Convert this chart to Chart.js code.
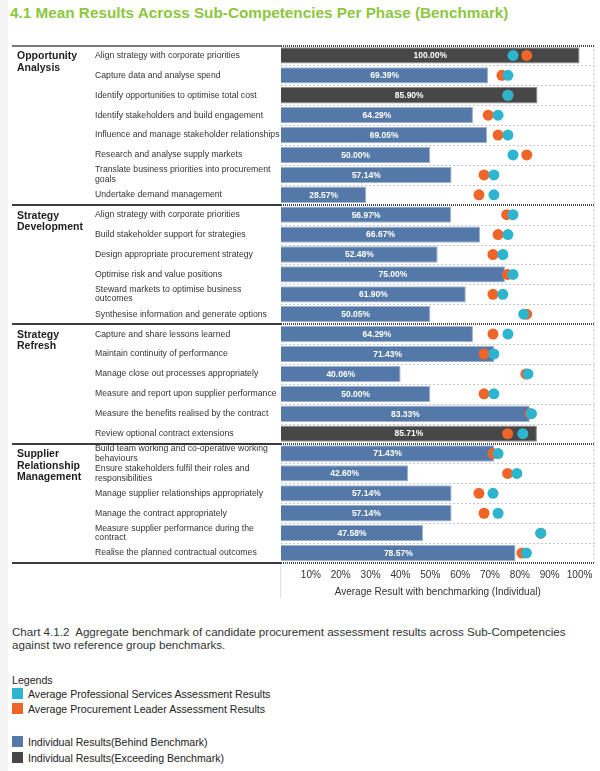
<!DOCTYPE html>
<html>
<head>
<meta charset="utf-8">
<script src="https://cdn.jsdelivr.net/npm/chart.js@4.4.1/dist/chart.umd.min.js"></script>
<style>
  body { margin: 0; background: #fff; font-family: "Liberation Sans", Arial, sans-serif; }
  #page { position: relative; width: 600px; height: 771px; overflow: hidden; background: #fff; }
  .strip { position: absolute; left: 0; top: 0; width: 8px; height: 771px; background: #f3f3f3; }
  h1 { position: absolute; left: 10px; top: 4px; margin: 0; font-size: 15.3px; font-weight: bold; color: #8dc63f; white-space: nowrap; }
  #wrap { position: absolute; left: 0; top: 40px; width: 600px; height: 558px; }
  .caption { position: absolute; left: 12px; top: 625px; width: 585px; font-size: 11.6px; line-height: 13px; color: #333; }
  .lg { position: absolute; left: 12px; font-size: 10.6px; color: #222; white-space: nowrap; }
  .sw { display: inline-block; width: 11px; height: 11px; margin-right: 5px; vertical-align: -1px; }
</style>
</head>
<body>
<div id="page">
  <div class="strip"></div>
  <h1>4.1 Mean Results Across Sub-Competencies Per Phase (Benchmark)</h1>
  <div id="wrap"><canvas id="chart"></canvas></div>
  <div class="caption">Chart 4.1.2&nbsp; Aggregate benchmark of candidate procurement assessment results across Sub-Competencies against two reference group benchmarks.</div>
  <div class="lg" style="top:674px">Legends</div>
  <div class="lg" style="top:688px"><span class="sw" style="background:#2db5cf"></span>Average Professional Services Assessment Results</div>
  <div class="lg" style="top:703px"><span class="sw" style="background:#ef6527"></span>Average Procurement Leader Assessment Results</div>
  <div class="lg" style="top:736px"><span class="sw" style="background:#5479a8"></span>Individual Results(Behind Benchmark)</div>
  <div class="lg" style="top:752px"><span class="sw" style="background:#474747"></span>Individual Results(Exceeding Benchmark)</div>
</div>
<script>
const phases = [['Opportunity', 'Analysis'], ['Strategy', 'Development'], ['Strategy', 'Refresh'], ['Supplier', 'Relationship', 'Management']];
const phaseCounts = [8, 6, 6, 6];

const subCompetencies = [
  'Align strategy with corporate priorities',
  'Capture data and analyse spend',
  'Identify opportunities to optimise total cost',
  'Identify stakeholders and build engagement',
  'Influence and manage stakeholder relationships',
  'Research and analyse supply markets',
  ['Translate business priorities into procurement', 'goals'],
  'Undertake demand management',
  'Align strategy with corporate priorities',
  'Build stakeholder support for strategies',
  'Design appropriate procurement strategy',
  'Optimise risk and value positions',
  ['Steward markets to optimise business', 'outcomes'],
  'Synthesise information and generate options',
  'Capture and share lessons learned',
  'Maintain continuity of performance',
  'Manage close out processes appropriately',
  'Measure and report upon supplier performance',
  'Measure the benefits realised by the contract',
  'Review optional contract extensions',
  ['Build team working and co-operative working', 'behaviours'],
  ['Ensure stakeholders fulfil their roles and', 'responsibilities'],
  'Manage supplier relationships appropriately',
  'Manage the contract appropriately',
  ['Measure supplier performance during the', 'contract'],
  'Realise the planned contractual outcomes'
];

const individual = [100.00, 69.39, 85.90, 64.29, 69.05, 50.00, 57.14, 28.57,
  56.97, 66.67, 52.48, 75.00, 61.90, 50.05,
  64.29, 71.43, 40.06, 50.00, 83.33, 85.71,
  71.43, 42.60, 57.14, 57.14, 47.58, 78.57];
const exceeding = [1, 0, 1, 0, 0, 0, 0, 0,
  0, 0, 0, 0, 0, 0,
  0, 0, 0, 0, 0, 1,
  0, 0, 0, 0, 0, 0];
const professionalServices = [77.7, 76.0, 76.0, 72.7, 76.0, 77.7, 71.3, 71.3,
  77.7, 76.0, 74.3, 77.7, 74.3, 81.3,
  76.0, 71.3, 82.7, 71.3, 83.9, 81.0,
  72.7, 79.0, 71.0, 72.7, 87.0, 82.2];
const procurementLeader = [82.3, 74.0, 76.0, 69.4, 72.7, 82.3, 68.0, 66.3,
  75.6, 72.7, 71.0, 75.9, 71.0, 82.3,
  71.0, 68.0, 82.0, 68.0, 83.5, 75.9,
  71.0, 75.9, 66.3, 68.0, 87.0, 80.7];
const xTicks = [10, 20, 30, 40, 50, 60, 70, 80, 90, 100];

const BLUE = '#5479a8', DARK = '#474747', CYAN = '#2db5cf', ORANGE = '#ef6527';

// separators, phase names and bar labels
const decor = {
  id: 'decor',
  beforeDatasetsDraw(chart) {
    const { ctx, chartArea: a, scales: { y } } = chart;
    const ends = [];
    let acc = 0;
    phaseCounts.forEach(c => { acc += c; ends.push(acc); });
    ctx.save();
    for (let i = 1; i < subCompetencies.length; i++) {
      const yy = Math.round((y.getPixelForValue(i - 1) + y.getPixelForValue(i)) / 2) + 0.5;
      if (ends.includes(i)) continue;
      ctx.strokeStyle = '#c8c8c8';
      ctx.lineWidth = 1;
      ctx.setLineDash([2, 2]);
      ctx.beginPath(); ctx.moveTo(a.left, yy); ctx.lineTo(a.right, yy); ctx.stroke();
    }
    // right border
    ctx.strokeStyle = '#bdbdbd';
    ctx.setLineDash([2, 2]);
    ctx.beginPath(); ctx.moveTo(a.right - 0.5, a.top); ctx.lineTo(a.right - 0.5, a.bottom); ctx.stroke();
    // light vertical under plot
    ctx.setLineDash([]);
    ctx.strokeStyle = '#e2e2e2';
    ctx.beginPath(); ctx.moveTo(a.left - 0.5, a.bottom); ctx.lineTo(a.left - 0.5, chart.height); ctx.stroke();
    ctx.restore();
  },
  afterDatasetsDraw(chart) {
    const { ctx, chartArea: a, scales: { y } } = chart;
    ctx.save();
    // section lines
    const bounds = [0];
    let acc = 0;
    phaseCounts.forEach(c => { acc += c; bounds.push(acc); });
    bounds.forEach((b, k) => {
      let yy;
      if (b === 0) yy = a.top;
      else if (b === subCompetencies.length) yy = a.bottom;
      else yy = (y.getPixelForValue(b - 1) + y.getPixelForValue(b)) / 2;
      yy = Math.round(yy);
      ctx.setLineDash([]);
      ctx.fillStyle = k === 0 ? '#7a7a7a' : '#3c3c3c';
      ctx.fillRect(12, yy - 1, a.left - 12, 2);
      ctx.strokeStyle = '#4a4a4a';
      ctx.lineWidth = 2;
      ctx.setLineDash([1, 1]);
      ctx.beginPath(); ctx.moveTo(a.left, yy); ctx.lineTo(a.right, yy); ctx.stroke();
    });
    // phase names
    ctx.setLineDash([]);
    ctx.fillStyle = '#1e1e1e';
    ctx.font = 'bold 10.5px "Liberation Sans", Arial, sans-serif';
    ctx.textAlign = 'left';
    ctx.textBaseline = 'middle';
    phases.forEach((lines, k) => {
      const top = y.getPixelForValue(bounds[k]);
      lines.forEach((t, j) => ctx.fillText(t, 17, top + 1 + j * 11.5));
    });
    // value labels in bars
    const meta = chart.getDatasetMeta(2);
    ctx.fillStyle = '#fff';
    ctx.font = 'bold 8.5px "Liberation Sans", Arial, sans-serif';
    ctx.textAlign = 'center';
    meta.data.forEach((bar, i) => {
      const cx = (bar.base + bar.x) / 2;
      ctx.fillText(individual[i].toFixed(2) + '%', cx, bar.y + 0.5);
    });
    ctx.restore();
  }
};

new Chart(document.getElementById('chart'), {
  type: 'bar',
  data: {
    labels: subCompetencies,
    datasets: [
      {
        type: 'line', label: 'Average Professional Services Assessment Results',
        data: professionalServices, indexAxis: 'y', showLine: false, order: 0,
        pointRadius: 5.5, pointBackgroundColor: CYAN, pointBorderWidth: 0, borderColor: CYAN
      },
      {
        type: 'line', label: 'Average Procurement Leader Assessment Results',
        data: procurementLeader, indexAxis: 'y', showLine: false, order: 1,
        pointRadius: 5.5, pointBackgroundColor: ORANGE, pointBorderWidth: 0, borderColor: ORANGE
      },
      {
        label: 'Individual Results', data: individual, order: 2,
        backgroundColor: exceeding.map(e => e ? DARK : BLUE),
        borderColor: exceeding.map(e => e ? '#8c8c8c' : '#9db2cd'),
        borderWidth: 1,
        categoryPercentage: 1, barPercentage: 0.82
      }
    ]
  },
  options: {
    indexAxis: 'y',
    responsive: true,
    maintainAspectRatio: false,
    animation: false,
    layout: { padding: { left: 95, top: 5, right: 4, bottom: 0 } },
    plugins: { legend: { display: false }, tooltip: { enabled: false } },
    scales: {
      x: {
        min: 0, max: 105,
        grid: { display: false, drawTicks: false },
        border: { display: false },
        afterBuildTicks: s => { s.ticks = xTicks.map(v => ({ value: v })); },
        ticks: {
          color: '#333', padding: 6, maxRotation: 0, autoSkip: false,
          font: { size: 10, family: '"Liberation Sans", Arial, sans-serif' },
          callback: v => v + '%'
        },
        title: {
          display: true, text: 'Average Result with benchmarking (Individual)', color: '#333',
          font: { size: 10, family: '"Liberation Sans", Arial, sans-serif' }, padding: { top: 4, bottom: 0 }
        },
        afterFit: s => { s.height = 35; }
      },
      y: {
        grid: { display: false },
        border: { display: false },
        ticks: {
          crossAlign: 'far', color: '#333', autoSkip: false, padding: 0,
          font: { size: 8.7, family: '"Liberation Sans", Arial, sans-serif', lineHeight: 1.1 }
        },
        afterFit: s => { s.width = 186; }
      }
    }
  },
  plugins: [decor]
});
</script>
</body>
</html>
